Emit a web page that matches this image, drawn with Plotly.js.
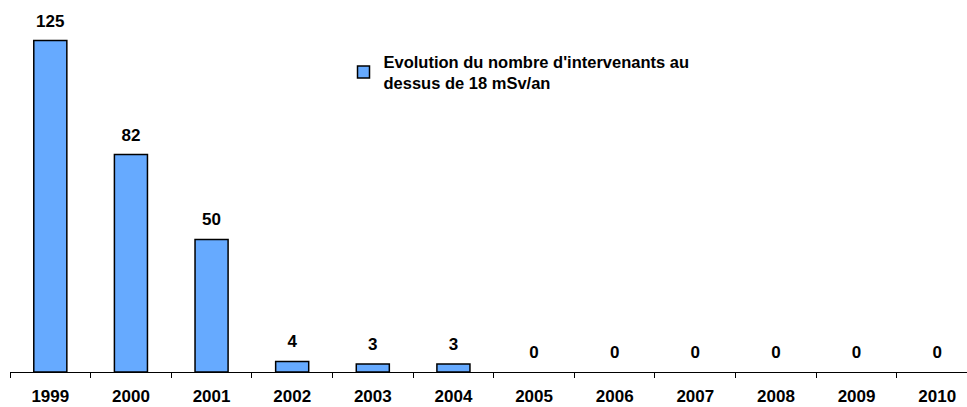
<!DOCTYPE html>
<html><head><meta charset="utf-8">
<script src="https://cdn.plot.ly/plotly-3.0.1.min.js"></script>
<style>html,body{margin:0;padding:0;background:#fff}</style>
</head><body>
<div id="chart" style="width:967px;height:407px"></div>
<script>
const years = ["1999","2000","2001","2002","2003","2004","2005","2006","2007","2008","2009","2010"];
const values = [125, 82, 50, 4, 3, 3, 0, 0, 0, 0, 0, 0];
const seriesName = "Evolution du nombre d'intervenants au<br>dessus de 18 mSv/an";

const fam = "Liberation Sans, Arial, sans-serif";

Plotly.newPlot("chart", [{
  type: "bar", x: years, y: values, name: seriesName,
  width: 0.41,
  marker: {color: "#66aaff", line: {color: "#000", width: values.map(v => v > 0 ? 1.5 : 0)}}
}, {
  type: "scatter", mode: "markers+text", x: years, y: values,
  text: values.map(v => String(v)), textposition: "top center",
  textfont: {family: fam, size: 17, color: "#000", weight: "bold"},
  marker: {size: 14, opacity: 0}, showlegend: false, cliponaxis: false, hoverinfo: "skip"
}], {
  width: 967, height: 407,
  margin: {l: 10, r: 0, t: 14, b: 35},
  paper_bgcolor: "#fff", plot_bgcolor: "#fff",
  font: {family: fam, size: 16, color: "#000"},
  showlegend: true,
  legend: {x: 0.3485, y: 0.916, xanchor: "left", yanchor: "top",
    font: {family: fam, size: 16.5, color: "#000", weight: "bold"},
    itemwidth: 30, bgcolor: "rgba(0,0,0,0)"},
  xaxis: {type: "category", range: [-0.5, 11.37], tickson: "boundaries",
    ticks: "outside", ticklen: 5, tickcolor: "#000", tickwidth: 1,
    showline: true, linecolor: "#000", linewidth: 1, showgrid: false,
    ticklabelstandoff: 9,
    tickfont: {family: fam, size: 17, color: "#000", weight: "bold"},
    fixedrange: true},
  yaxis: {range: [0, 135], showticklabels: false, ticks: "", showline: false,
    showgrid: false, zeroline: false, fixedrange: true},
  bargap: 0.59
}, {displayModeBar: false, staticPlot: true});
</script>
</body></html>
